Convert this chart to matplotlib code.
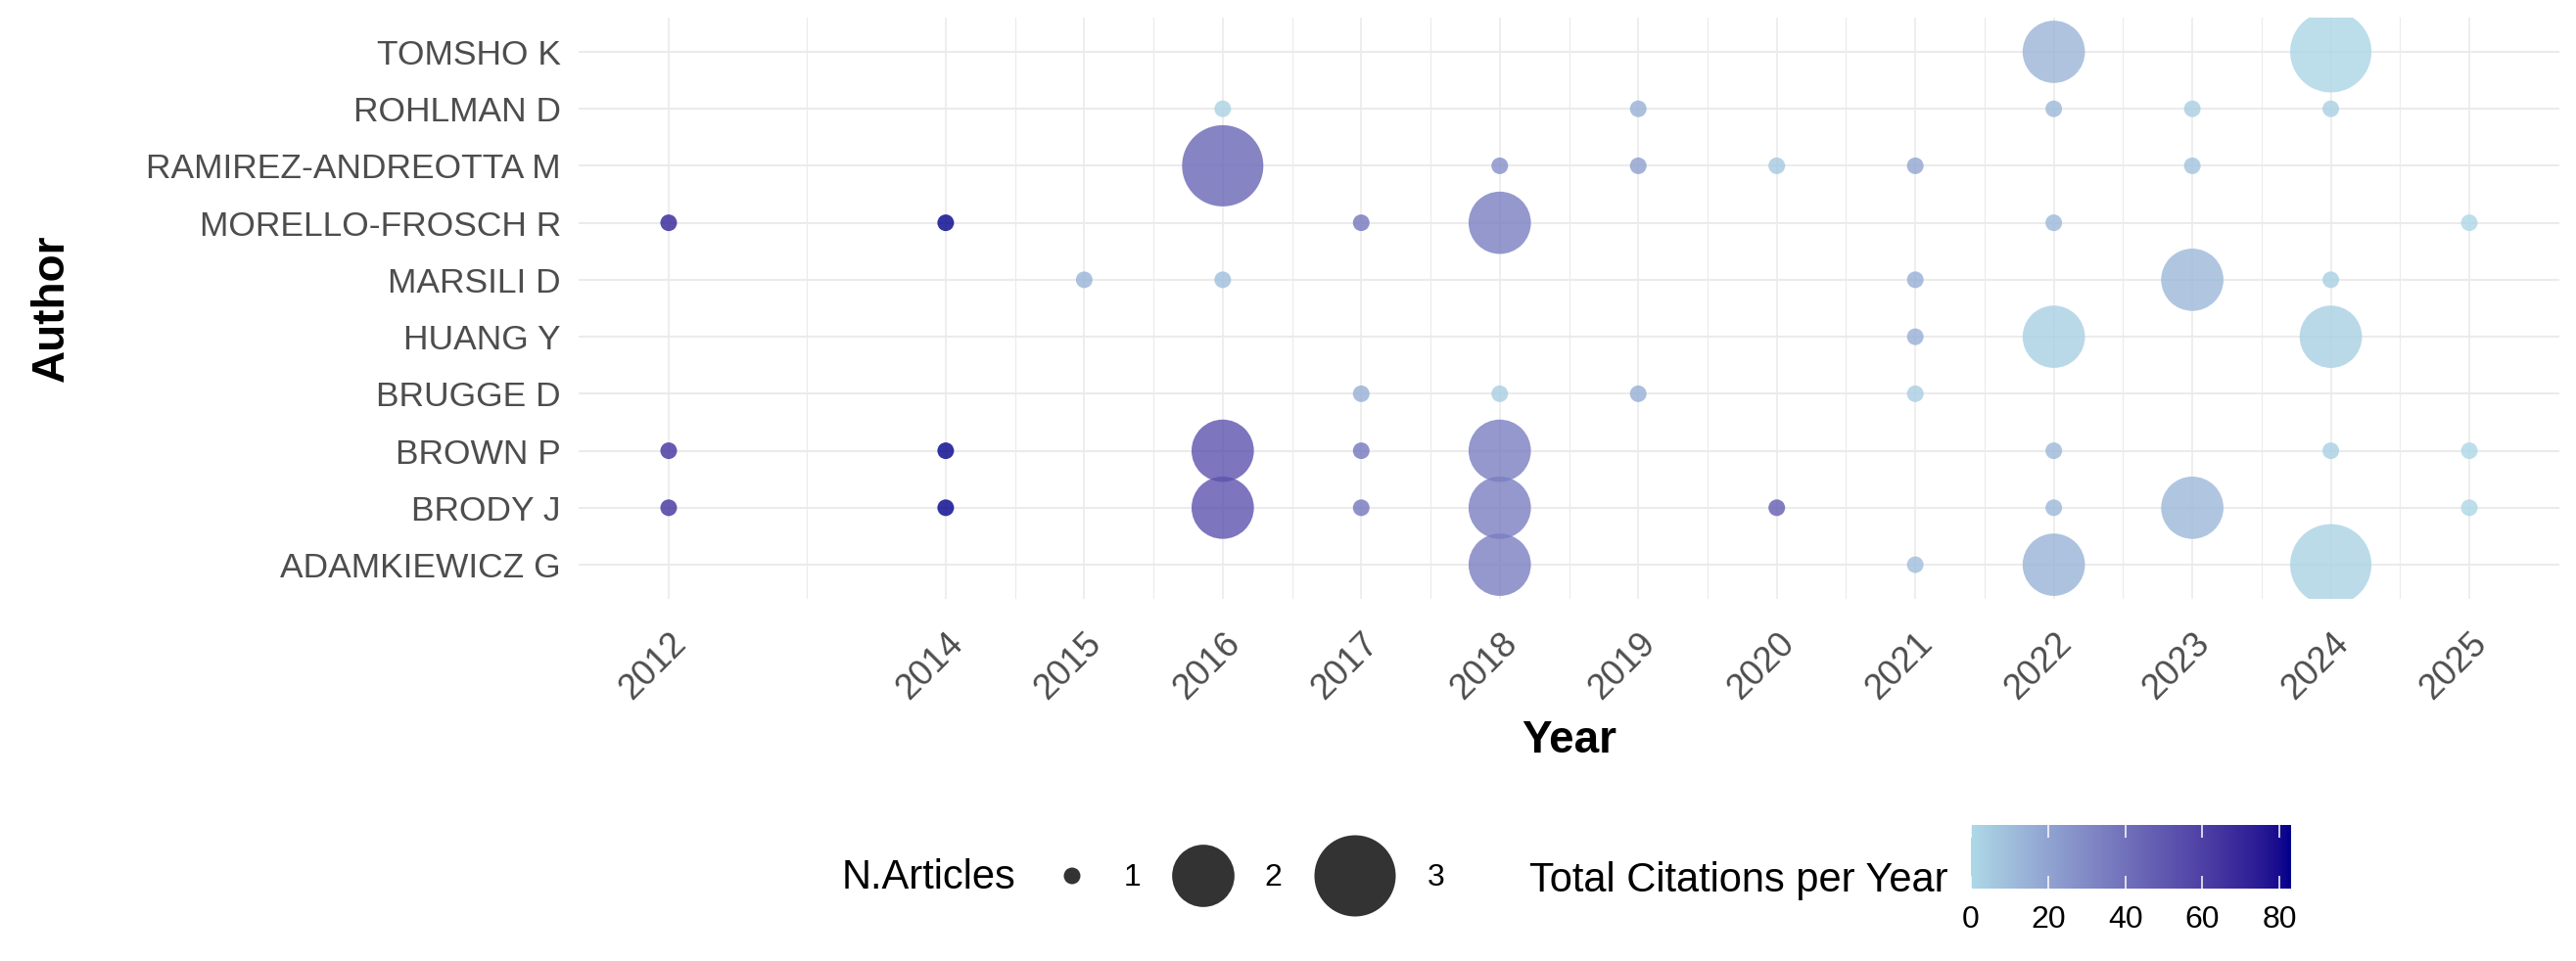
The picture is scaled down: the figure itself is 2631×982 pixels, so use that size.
import numpy as np
import matplotlib
matplotlib.use('Agg')
import matplotlib.pyplot as plt
from matplotlib.colors import LinearSegmentedColormap, Normalize
from matplotlib.cm import ScalarMappable

plt.rcParams['font.family'] = ['Liberation Sans', 'DejaVu Sans']

# authors, bottom to top
authors = ["ADAMKIEWICZ G", "BRODY J", "BROWN P", "BRUGGE D", "HUANG Y",
           "MARSILI D", "MORELLO-FROSCH R", "RAMIREZ-ANDREOTTA M", "ROHLMAN D", "TOMSHO K"]

# one entry per point
pt_author = (["TOMSHO K"] * 2
             + ["ROHLMAN D"] * 5
             + ["RAMIREZ-ANDREOTTA M"] * 6
             + ["MORELLO-FROSCH R"] * 6
             + ["MARSILI D"] * 5
             + ["HUANG Y"] * 3
             + ["BRUGGE D"] * 4
             + ["BROWN P"] * 8
             + ["BRODY J"] * 9
             + ["ADAMKIEWICZ G"] * 4)
pt_year = ([2022, 2024]
           + [2016, 2019, 2022, 2023, 2024]
           + [2016, 2018, 2019, 2020, 2021, 2023]
           + [2012, 2014, 2017, 2018, 2022, 2025]
           + [2015, 2016, 2021, 2023, 2024]
           + [2021, 2022, 2024]
           + [2017, 2018, 2019, 2021]
           + [2012, 2014, 2016, 2017, 2018, 2022, 2024, 2025]
           + [2012, 2014, 2016, 2017, 2018, 2020, 2022, 2023, 2025]
           + [2018, 2021, 2022, 2024])
pt_articles = ([2, 3]
               + [1, 1, 1, 1, 1]
               + [3, 1, 1, 1, 1, 1]
               + [1, 1, 1, 2, 1, 1]
               + [1, 1, 1, 2, 1]
               + [1, 2, 2]
               + [1, 1, 1, 1]
               + [1, 1, 2, 1, 2, 1, 1, 1]
               + [1, 1, 2, 1, 2, 1, 1, 2, 1]
               + [2, 1, 2, 3])
pt_tcpy = ([13, 1]
           + [2, 15, 12, 4, 3]
           + [45, 28, 22, 6, 20, 8]
           + [72, 83, 38, 35, 12, 0]
           + [14, 10, 16, 12, 3]
           + [16, 3, 3]
           + [16, 4, 16, 4]
           + [66, 83, 52, 38, 35, 12, 3, 0.5]
           + [66, 83, 52, 38, 35, 48, 12, 12, 0.5]
           + [35, 10, 14, 2])

DPI = 100
W, H = 2631, 982


# ggplot-like gradient (interpolated in CIELAB)
def srgb_to_lab(rgb):
    rgb = np.asarray(rgb, float)
    lin = np.where(rgb <= 0.04045, rgb / 12.92, ((rgb + 0.055) / 1.055) ** 2.4)
    m = np.array([[0.4124564, 0.3575761, 0.1804375],
                  [0.2126729, 0.7151522, 0.0721750],
                  [0.0193339, 0.1191920, 0.9503041]])
    xyz = m @ lin / np.array([0.95047, 1.0, 1.08883])
    d = 6 / 29
    f = np.where(xyz > d ** 3, np.cbrt(xyz), xyz / (3 * d ** 2) + 4 / 29)
    return np.array([116 * f[1] - 16, 500 * (f[0] - f[1]), 200 * (f[1] - f[2])])


def lab_to_srgb(lab):
    L, a, b = lab
    fy = (L + 16) / 116
    fx = fy + a / 500
    fz = fy - b / 200
    d = 6 / 29
    f = np.array([fx, fy, fz])
    xyz = np.where(f > d, f ** 3, 3 * d ** 2 * (f - 4 / 29)) * np.array([0.95047, 1.0, 1.08883])
    minv = np.array([[3.2404542, -1.5371385, -0.4985314],
                     [-0.9692660, 1.8760108, 0.0415560],
                     [0.0556434, -0.2040259, 1.0572252]])
    lin = minv @ xyz
    lin = np.clip(lin, 0, 1)
    rgb = np.where(lin <= 0.0031308, 12.92 * lin, 1.055 * lin ** (1 / 2.4) - 0.055)
    return np.clip(rgb, 0, 1)


lo = srgb_to_lab(np.array([173, 216, 230]) / 255)   # lightblue
hi = srgb_to_lab(np.array([0, 0, 139]) / 255)       # darkblue
cmap = LinearSegmentedColormap.from_list(
    "tc", [lab_to_srgb(lo + (hi - lo) * t) for t in np.linspace(0, 1, 256)])
norm = Normalize(vmin=min(pt_tcpy), vmax=max(pt_tcpy))


def size_pts2(n):
    n = np.asarray(n, float)
    lo_n, hi_n = min(pt_articles), max(pt_articles)
    diam_px = 17 + 66 * np.sqrt((n - lo_n) / (hi_n - lo_n))
    return (diam_px * 72 / DPI) ** 2


fig = plt.figure(figsize=(W / DPI, H / DPI), dpi=DPI)
ax = fig.add_axes([591 / W, 1 - 612 / H, (2614 - 591) / W, (612 - 18) / H])

yidx = [authors.index(a) + 1 for a in pt_author]
ax.scatter(pt_year, yidx, s=size_pts2(pt_articles), c=pt_tcpy, cmap=cmap, norm=norm,
           alpha=0.8, linewidths=0, zorder=3)

years = sorted(set(pt_year))
ax.set_xticks(years)
ax.set_xticks([(a + b) / 2 for a, b in zip(years[:-1], years[1:])], minor=True)
ax.set_xticklabels([str(y) for y in years])
ax.set_yticks(range(1, len(authors) + 1))
ax.set_yticklabels(authors)
span = years[-1] - years[0]
ax.set_xlim(years[0] - 0.05 * span, years[-1] + 0.05 * span)
ax.set_ylim(0.4, len(authors) + 0.6)

ax.grid(which='major', axis='y', color='#EBEBEB', linewidth=1.5)
ax.grid(which='major', axis='x', color='#EBEBEB', linewidth=1.2)
ax.grid(which='minor', axis='x', color='#EBEBEB', linewidth=0.8)
ax.set_axisbelow(True)
for sp in ax.spines.values():
    sp.set_visible(False)

ax.tick_params(axis='both', which='both', length=0, labelcolor='#4D4D4D')
ax.tick_params(axis='y', pad=13, labelsize=25.5)
ax.tick_params(axis='x', pad=20, labelsize=26)
plt.setp(ax.get_xticklabels(), rotation=45, ha='right', va='top', rotation_mode='anchor')

ax.set_xlabel("Year", fontsize=33, fontweight='bold', color='black')
ax.set_ylabel("Author", fontsize=33, fontweight='bold', color='black')
ax.xaxis.set_label_coords(0.5, -(735 - 612) / 594)
ax.yaxis.set_label_coords(-(591 - 75) / 2023, 0.5)

# legends drawn in pixel space
lg = fig.add_axes([0, 0, 1, 1])
lg.set_xlim(0, W)
lg.set_ylim(H, 0)
lg.axis('off')
lg.patch.set_alpha(0)

leg_sizes = [1, 2, 3]
leg_x = [1095, 1229, 1384]
leg_lab_x = [1156, 1300, 1467]
lg.text(860, 897, "N.Articles", fontsize=30, ha='left', va='center')
lg.scatter(leg_x, [895] * 3, s=size_pts2(leg_sizes), color='black', alpha=0.8, linewidths=0)
for xx, v in zip(leg_lab_x, leg_sizes):
    lg.text(xx, 897, str(v), fontsize=23, ha='center', va='center')

lg.text(1990, 900, "Total Citations per Year", fontsize=30, ha='right', va='center')

cax = fig.add_axes([2013 / W, 1 - 908 / H, 327 / W, 65 / H])
cb = fig.colorbar(ScalarMappable(norm=norm, cmap=cmap), cax=cax, orientation='horizontal')
cb.outline.set_visible(False)
cb.set_ticks([0, 20, 40, 60, 80])
cax.xaxis.set_ticks_position('both')
cax.tick_params(axis='x', direction='in', length=9.5, width=1.1, color='white',
                labelsize=23, pad=12, top=True, bottom=True, labeltop=False)

fig.savefig("out.png", dpi=DPI)
